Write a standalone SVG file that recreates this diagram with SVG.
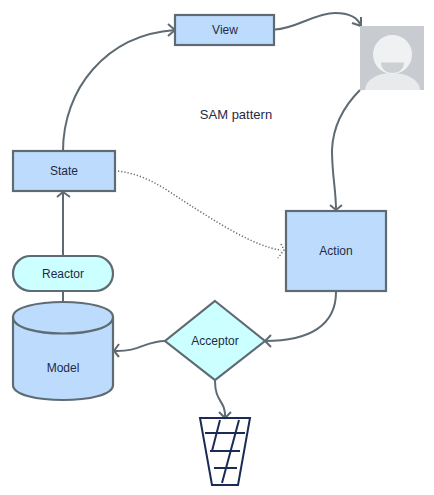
<svg xmlns="http://www.w3.org/2000/svg" width="434" height="495" viewBox="0 0 434 495">
<style>
text{font-family:"Liberation Sans",Arial,sans-serif;font-size:12px;fill:#1f2a44;text-anchor:middle}
.n{fill:#bddcfd;stroke:#5f6b73;stroke-width:2.2}
.a{fill:#ccffff;stroke:#5f6b73;stroke-width:2.2}
.c{fill:none;stroke:#5f6b73;stroke-width:2}
.d{fill:none;stroke:#5f6b73;stroke-width:1.5;stroke-dasharray:1.2 2}
.t{fill:none;stroke:#1a2b55;stroke-width:2}
</style>
<rect width="434" height="495" fill="#fff"/>
<g id="connectors">
<path class="c" d="M63 151C63 90 105 35 175 30"/><path class="c" d="M168 24L175 30L168 36"/>
<path class="c" d="M275 29.500C295 29 315 13 335 13C350 13 358 18 361 26"/><path class="c" d="M352 23L361 26L361 17"/>
<path class="c" d="M360 90C345 105 333 125 332 150C332 175 336 190 336 210"/><path class="c" d="M330 205L336 210L342 205"/>
<path class="d" d="M118 171C150 175 170 193 193 207C215 221 255 247 281 250"/><path class="d" d="M281 244L284 250L278 258"/>
<path class="c" d="M336 292C336 325 310 341 265 341"/><path class="c" d="M271 335L265 341L271 347"/>
<path class="c" d="M165 341C145 341 140 352 114 351"/><path class="c" d="M119 344L114 351L119 357"/>
<path class="c" d="M215 381C215 403 226 400 225 418"/><path class="c" d="M219 412L225 418L231 412"/>
<path class="c" d="M63 255V192"/><path class="c" d="M57 197L63 192L70 197"/>
<path class="c" d="M63 291V303"/>
</g>
<g id="view"><rect class="n" x="175" y="15" width="99" height="30"/><text x="225" y="34">View</text></g>
<g id="user">
<rect x="360" y="26" width="64" height="64" fill="#c8ccd0"/>
<path d="M365 90C366 79 378 73 392 73C406 73 419 79 420 90Z" fill="#e8eaeb"/>
<circle cx="392.500" cy="54.500" r="19.500" fill="#f0f1f2"/>
<path d="M381 62.500H404C404 70 398 73 392.500 73C387 73 381 70 381 62.500Z" fill="#ccd0d3"/>
</g>
<g id="label"><text x="236" y="119" style="font-size:13px">SAM pattern</text></g>
<g id="state"><rect class="n" x="13" y="151" width="102" height="40"/><text x="64" y="175">State</text></g>
<g id="action"><rect class="n" x="286" y="211" width="100" height="80"/><text x="336" y="255">Action</text></g>
<g id="reactor"><rect class="a" x="13" y="256" width="100" height="35" rx="17.500"/><text x="63" y="278">Reactor</text></g>
<g id="model">
<path class="n" d="M13 317C13 297 113 297 113 317V385C113 405 13 405 13 385Z"/>
<path class="n" style="fill:none" d="M13 317C13 339 113 339 113 317"/>
<text x="63" y="372">Model</text>
</g>
<g id="acceptor"><polygon class="a" points="215,301 265,341 215,380 165,341"/><text x="215" y="345">Acceptor</text></g>
<g id="bin">
<path class="t" d="M200 418H250L238 485H212Z"/>
<path class="t" d="M205 433H245M210 451H240M214 468H237M220 420L212 451M239 420L222 483"/>
</g>
</svg>
